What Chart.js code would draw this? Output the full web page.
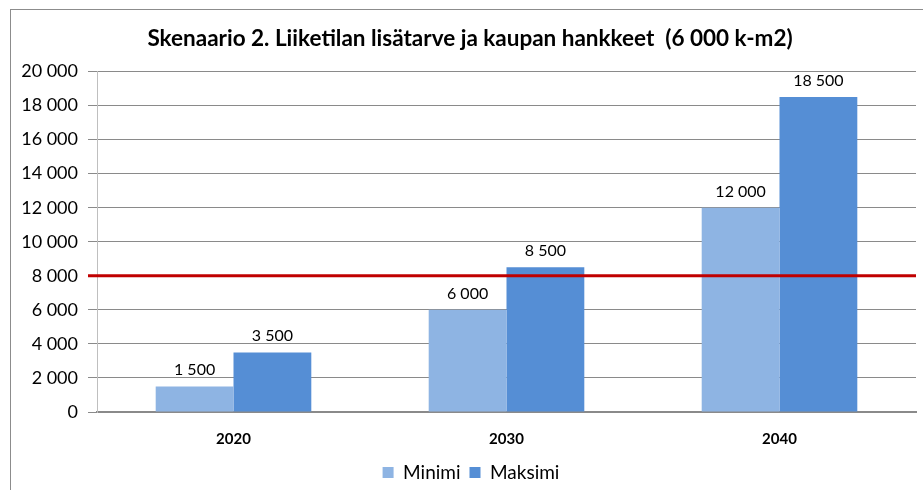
<!DOCTYPE html>
<html>
<head>
<meta charset="utf-8">
<script src="https://cdn.jsdelivr.net/npm/chart.js@4.4.1/dist/chart.umd.min.js"></script>
<style>
  html, body { margin: 0; padding: 0; background: #fff; overflow: hidden; }
  #frame { position: absolute; left: 10px; top: 9px; width: 1000px; height: 600px; border: 1px solid #8c8c8c; }
  #wrap { position: absolute; left: 0; top: 0; width: 923px; height: 490px; }
</style>
</head>
<body>
<div id="frame"></div>
<div id="wrap"><canvas id="chart" width="923" height="490"></canvas></div>
<script>
const vuodet = ['2020', '2030', '2040'];
const minimi = [1500, 6000, 12000];
const maksimi = [3500, 8500, 18500];
const hankkeet = 8000;
const otsikko = 'Skenaario 2. Liiketilan lisätarve ja kaupan hankkeet  (6 000 k-m2)';

const fmt = v => String(v).replace(/\B(?=(\d{3})+(?!\d))/g, ' ');

// punainen viiva 8000 kohdalle
const rajaViiva = {
  id: 'rajaViiva',
  afterDatasetsDraw(chart) {
    const c = chart.ctx;
    const y = chart.scales.y.getPixelForValue(hankkeet);
    c.save();
    c.strokeStyle = '#C00000';
    c.lineWidth = 3;
    c.beginPath();
    c.moveTo(chart.chartArea.left - 9, y);
    c.lineTo(chart.chartArea.right, y);
    c.stroke();
    c.restore();
  }
};

// arvot pylväiden päälle
const arvot = {
  id: 'arvot',
  afterDraw(chart) {
    const c = chart.ctx;
    c.save();
    c.font = '16px Lato';
    c.fillStyle = '#000';
    c.textAlign = 'center';
    c.textBaseline = 'alphabetic';
    chart.data.datasets.forEach((ds, i) => {
      chart.getDatasetMeta(i).data.forEach((bar, j) => {
        c.fillText(fmt(ds.data[j]), bar.x, bar.y - 11);
      });
    });
    c.restore();
  }
};

// otsikko ja selite hieman oikealle kuten alkuperäisessä
const siirrot = {
  id: 'siirrot',
  afterLayout(chart) {
    const l = chart.legend;
    l.left += 13; l.right += 13;
    l.top += 2; l.bottom += 2;
    const t = chart.titleBlock;
    t.left += 12; t.right += 12;
  }
};

new Chart(document.getElementById('chart'), {
  type: 'bar',
  data: {
    labels: vuodet,
    datasets: [
      { label: 'Minimi', data: minimi, backgroundColor: '#8EB4E3' },
      { label: 'Maksimi', data: maksimi, backgroundColor: '#558ED5' }
    ]
  },
  options: {
    responsive: false,
    animation: false,
    categoryPercentage: 0.57,
    barPercentage: 1.0,
    layout: { padding: { left: 0, right: 7, top: 0, bottom: 0 } },
    plugins: {
      title: {
        display: true,
        text: otsikko,
        color: '#000',
        font: { family: 'Lato', size: 22.5, weight: 'bold' },
        padding: { top: 25, bottom: 19.5 }
      },
      legend: {
        position: 'bottom',
        labels: {
          color: '#000',
          font: { family: 'Lato', size: 19 },
          boxWidth: 11,
          boxHeight: 11,
          padding: 9
        }
      },
      tooltip: { enabled: false }
    },
    scales: {
      x: {
        grid: { display: false },
        border: { color: '#8a8a8a', width: 2 },
        ticks: { color: '#000', font: { family: 'Lato', size: 15, weight: 'bold' }, padding: 10 },
        afterFit(s) { s.height = 40; }
      },
      y: {
        min: 0,
        max: 20000,
        ticks: {
          stepSize: 2000,
          color: '#000',
          font: { family: 'Lato', size: 18 },
          padding: 10,
          callback: v => fmt(v)
        },
        grid: { color: '#8a8a8a', tickLength: 9 },
        border: { color: '#bfbfbf' },
        afterFit(s) { s.width = 97; }
      }
    }
  },
  plugins: [rajaViiva, arvot, siirrot]
});
</script>
</body>
</html>
